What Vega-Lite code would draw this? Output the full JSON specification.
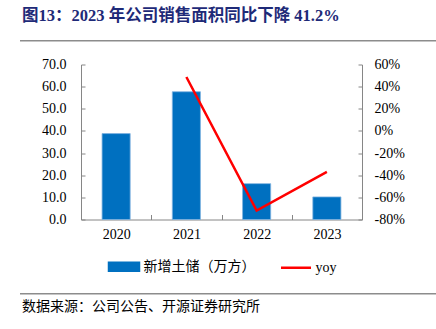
{
  "$schema": "https://vega.github.io/schema/vega-lite/v6.json",
  "padding": {"left": 20, "top": 8, "right": 0, "bottom": 0},
  "spacing": 15.5,
  "bounds": "full",
  "background": "white",
  "resolve": {"scale": {"x": "independent", "y": "independent", "color": "independent"}, "axis": {"x": "independent", "y": "independent"}, "legend": {"color": "independent"}},
  "config": {
    "view": {"stroke": null},
    "font": "Liberation Serif",
    "axis": {"labelFont": "Liberation Serif", "labelFontSize": 14, "labelColor": "#000000", "domainColor": "#868686", "tickColor": "#868686", "grid": false},
    "legend": {"layout": {"bottom": {"anchor": "middle"}}}
  },
  "vconcat": [
    {
      "width": 416,
      "height": 1.5,
      "view": {"fill": "#8c8c8c", "stroke": null},
      "title": {"text": "图13：2023 年公司销售面积同比下降 41.2%", "anchor": "start", "font": "Liberation Serif, Noto Sans CJK SC", "fontSize": 16.5, "fontWeight": "bold", "color": "#1e2a78", "offset": 15.5, "dx": 2},
      "data": {"values": [{"hp": 0}]},
      "mark": {"type": "point", "size": 0, "opacity": 0},
      "encoding": {}
    },
    {
      "spacing": 0,
      "resolve": {"scale": {"x": "independent", "y": "independent", "color": "independent"}, "legend": {"color": "independent"}},
      "hconcat": [
        {
          "width": 1,
          "height": 155,
          "data": {"values": [{"s": 0}]},
          "mark": {"type": "point", "size": 0, "opacity": 0},
          "encoding": {}
        },
        {
          "width": 281,
          "height": 155,
          "data": {"values": [
            {"year": "2020", "area": 38.8, "yoy": null},
            {"year": "2021", "area": 57.7, "yoy": 48.7},
            {"year": "2022", "area": 16.2, "yoy": -71.9},
            {"year": "2023", "area": 10.2, "yoy": -37.0}
          ]},
          "encoding": {
            "x": {"field": "year", "type": "ordinal", "scale": {"paddingInner": 0, "paddingOuter": 0},
                  "axis": {"title": null, "labelAngle": 0, "tickBand": "extent", "tickSize": -5, "labelPadding": 13}}
          },
          "layer": [
            {
              "mark": {"type": "bar", "width": {"band": 0.4}, "stroke": "#7fb3e0", "strokeWidth": 0.8},
              "encoding": {
                "y": {"field": "area", "type": "quantitative", "scale": {"domain": [0, 70]},
                      "axis": {"title": null, "orient": "left", "values": [0, 10, 20, 30, 40, 50, 60, 70], "format": ".1f", "tickSize": -4, "labelPadding": 19, "minExtent": 60}},
                "color": {"datum": "新增土储（万方）", "type": "nominal",
                          "scale": {"domain": ["新增土储（万方）", "yoy"], "range": ["#0070C0", "#FF0000"]},
                          "legend": {"title": null, "orient": "bottom", "direction": "horizontal", "offset": 6.5, "padding": 1.5,
                                     "labelFont": "Liberation Serif, Noto Sans CJK SC", "labelFontSize": 14, "labelColor": "#000000",
                                     "symbolSize": 900, "columnPadding": 20, "labelOffset": 3, "symbolType": "M-1,-0.27H1V0.27H-1Z",
                                     "encoding": {"symbols": {
                                       "shape": {"condition": {"test": "datum.value === 'yoy'", "value": "M-1,0H1"}, "value": "M-1,-0.27H1V0.27H-1Z"},
                                       "fill": {"condition": {"test": "datum.value === 'yoy'", "value": "transparent"}, "value": "#0070C0"},
                                       "stroke": {"condition": {"test": "datum.value === 'yoy'", "value": "#FF0000"}, "value": "transparent"},
                                       "strokeWidth": {"value": 2.5}
                                     }}}}
              }
            },
            {
              "transform": [{"filter": "isValid(datum.yoy)"}],
              "mark": {"type": "line", "strokeWidth": 2.5},
              "encoding": {
                "y": {"field": "yoy", "type": "quantitative", "scale": {"domain": [-80, 60]},
                      "axis": {"title": null, "orient": "right", "values": [-80, -60, -40, -20, 0, 20, 40, 60],
                               "labelExpr": "(datum.value < 0 ? '-' : '') + abs(datum.value) + '%'", "tickSize": -4, "labelPadding": 16}},
                "color": {"datum": "yoy", "type": "nominal",
                          "legend": {"title": null, "orient": "bottom", "direction": "horizontal", "offset": 6.5, "padding": 1.5,
                                     "labelFont": "Liberation Serif, Noto Sans CJK SC", "labelFontSize": 14, "labelColor": "#000000",
                                     "symbolSize": 900, "columnPadding": 20, "labelOffset": 3, "symbolType": "M-1,-0.27H1V0.27H-1Z",
                                     "encoding": {"symbols": {
                                       "shape": {"condition": {"test": "datum.value === 'yoy'", "value": "M-1,0H1"}, "value": "M-1,-0.27H1V0.27H-1Z"},
                                       "fill": {"condition": {"test": "datum.value === 'yoy'", "value": "transparent"}, "value": "#0070C0"},
                                       "stroke": {"condition": {"test": "datum.value === 'yoy'", "value": "#FF0000"}, "value": "transparent"},
                                       "strokeWidth": {"value": 2.5}
                                     }}}}
              }
            }
          ],
          "resolve": {"scale": {"y": "independent"}}
        }
      ]
    },
    {
      "width": 416,
      "height": 1.5,
      "view": {"fill": "#8c8c8c", "stroke": null},
      "title": {"text": "数据来源：公司公告、开源证券研究所", "orient": "bottom", "anchor": "start", "font": "Noto Sans CJK SC", "fontSize": 14, "fontWeight": "normal", "color": "#000000", "offset": 5, "dx": 2},
      "data": {"values": [{"fp": 0}]},
      "mark": {"type": "point", "size": 0, "opacity": 0},
      "encoding": {}
    }
  ]
}
